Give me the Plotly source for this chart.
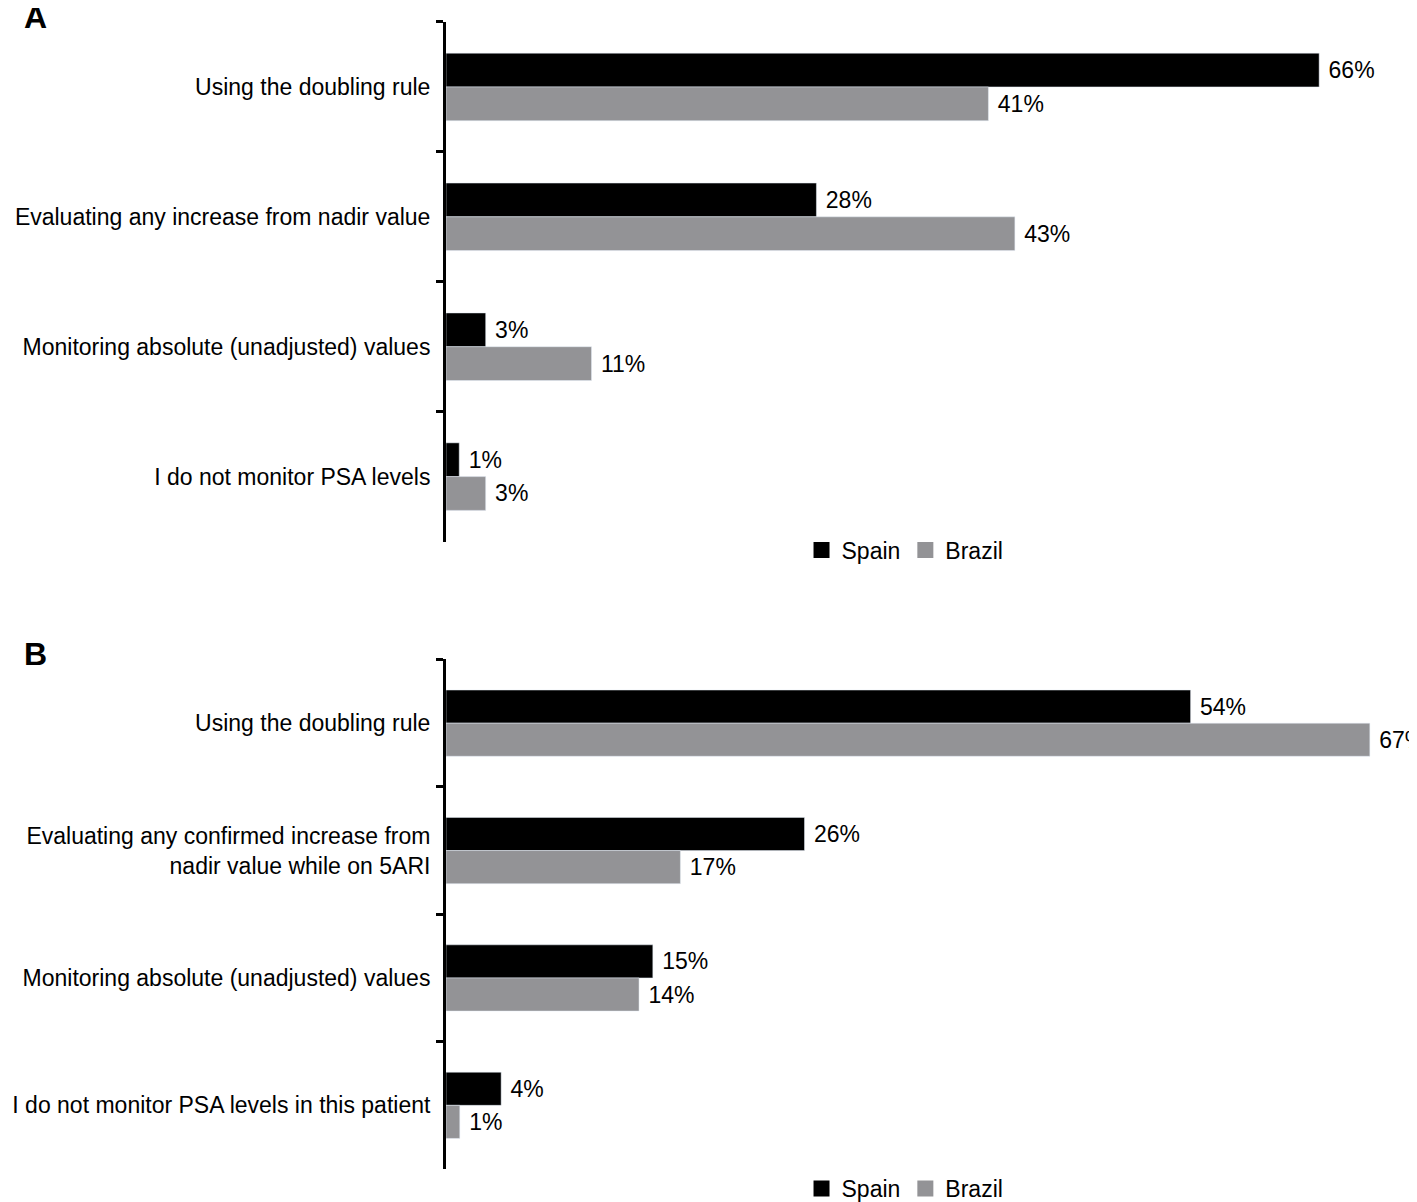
import plotly.graph_objects as go

cats_a = ["Using the doubling rule", "Evaluating any increase from nadir value",
          "Monitoring absolute (unadjusted) values", "I do not monitor PSA levels"]
spain_a = [66, 28, 3, 1]
brazil_a = [41, 43, 11, 3]
cats_b = ["Using the doubling rule", "Evaluating any confirmed increase from<br>nadir value while on 5ARI",
          "Monitoring absolute (unadjusted) values", "I do not monitor PSA levels in this patient"]
spain_b = [54, 26, 15, 4]
brazil_b = [67, 17, 14, 1]

F = "Liberation Sans, Arial, sans-serif"
H = 1202
fig = go.Figure()
for i, (cats, sp, br) in enumerate([(cats_a, spain_a, brazil_a), (cats_b, spain_b, brazil_b)]):
    xa = "x" if i == 0 else "x2"
    ya = "y" if i == 0 else "y2"
    lg = "legend" if i == 0 else "legend2"
    for name, vals, col in [("Spain", sp, "#000000"), ("Brazil", br, "#939396")]:
        fig.add_trace(go.Bar(y=cats, x=vals, orientation="h", name=name, marker_color=col,
                             text=[f" {v}%" for v in vals], textposition="outside",
                             textfont=dict(size=23, color="black", family=F), cliponaxis=False,
                             xaxis=xa, yaxis=ya, showlegend=False))
        fig.add_trace(go.Scatter(x=[None], y=[None], mode="markers", name=name,
                                 marker=dict(symbol="square", size=20, color=col),
                                 xaxis=xa, yaxis=ya, legend=lg))

ax = dict(visible=False, showgrid=False, zeroline=False)
yax = dict(autorange="reversed", showline=True, linecolor="black", linewidth=3,
           ticks="outside", tickson="boundaries", ticklen=7, tickwidth=3, tickcolor="black",
           tickfont=dict(size=23, color="black", family=F), ticklabelstandoff=8)
fig.update_layout(
    width=1417, height=H, margin=dict(l=0, r=0, t=0, b=0),
    plot_bgcolor="white", paper_bgcolor="white", font=dict(family=F, color="black"),
    barmode="group", bargap=0.48, bargroupgap=0,
    xaxis=dict(domain=[438/1417, 1], range=[0, 74], **ax),
    xaxis2=dict(domain=[438/1417, 1], range=[0, 71], anchor="y2", **ax),
    yaxis=dict(domain=[1 - 534/H, 1 - 14/H], anchor="x", **yax),
    yaxis2=dict(domain=[1 - 1162/H, 1 - 652/H], anchor="x2", **yax),
    legend=dict(orientation="h", x=0.56, y=1 - 542/H, xanchor="left", yanchor="middle",
                font=dict(size=23, family=F), traceorder="normal", itemwidth=30),
    legend2=dict(orientation="h", x=0.56, y=1 - 1181/H, xanchor="left", yanchor="middle",
                 font=dict(size=23, family=F), traceorder="normal", itemwidth=30),
    annotations=[
        dict(text="<b>A</b>", x=14/1417, y=1 - 9/H, xref="paper", yref="paper",
             xanchor="left", yanchor="middle", showarrow=False, font=dict(size=32, family=F)),
        dict(text="<b>B</b>", x=14/1417, y=1 - 647/H, xref="paper", yref="paper",
             xanchor="left", yanchor="middle", showarrow=False, font=dict(size=32, family=F)),
    ],
)
fig.write_html("out.html")
